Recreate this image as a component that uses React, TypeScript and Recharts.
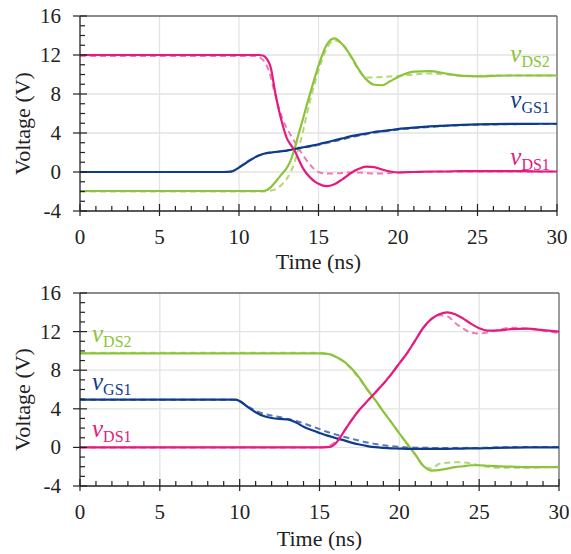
import React from 'react';
import { LineChart, Line, XAxis, YAxis, CartesianGrid, ReferenceLine, ReferenceDot } from 'recharts';

// turn-on transient (top) and turn-off transient (bottom), time in ns, voltage in V
const topTime = [0, 9, 9.5, 10, 10.5, 11, 11.25, 11.5, 11.75, 12, 12.25, 12.5, 12.75, 13, 13.25, 13.5, 13.75, 14, 14.25, 14.5, 14.75, 15, 15.5, 16, 16.5, 17, 17.5, 18, 18.5, 19, 19.5, 20, 21, 22, 23, 24, 25, 26, 27, 28, 29, 30];
const topVds1 = [12, 12, 12, 12, 12, 12, 12, 11.95, 11.6, 10.7, 8.4, 6.4, 4.8, 3.5, 2.8, 2.2, 1.3, 0.45, -0.15, -0.6, -0.95, -1.2, -1.45, -1.25, -0.75, -0.15, 0.3, 0.55, 0.5, 0.25, 0.05, -0.05, 0, 0.05, 0.05, 0.1, 0.1, 0.1, 0.1, 0.08, 0.05, 0.05];
const topVds1Sim = [11.9, 11.9, 11.9, 11.9, 11.9, 11.9, 11.8, 11.5, 10.9, 9.7, 8.1, 6.6, 5.4, 4.5, 3.8, 3.1, 2.4, 1.8, 1.2, 0.7, 0.25, 0, -0.15, -0.15, -0.1, -0.05, -0.05, -0.1, -0.15, -0.15, -0.1, -0.05, 0, 0, 0.05, 0.05, 0.05, 0.05, 0.05, 0.05, 0.05, 0.05];
const topVds2 = [-1.95, -1.95, -1.95, -1.95, -1.95, -1.95, -1.95, -1.95, -1.85, -1.55, -1.1, -0.6, -0.1, 0.4, 1.2, 2.4, 3.9, 5.3, 6.8, 8.2, 9.6, 10.9, 13.0, 13.7, 13.1, 12.0, 10.6, 9.5, 8.95, 8.9, 9.3, 9.75, 10.3, 10.35, 10.1, 9.85, 9.8, 9.85, 9.9, 9.9, 9.9, 9.9];
const topVds2Sim = [-2, -2, -2, -2, -2, -2, -2, -2, -1.95, -1.9, -1.8, -1.55, -1.2, -0.7, 0, 1.0, 2.4, 4.0, 5.8, 7.5, 9.0, 10.4, 12.6, 13.5, 13.1, 11.9, 10.5, 9.7, 9.7, 9.75, 9.8, 9.85, 10.0, 10.1, 10.0, 9.9, 9.85, 9.9, 9.9, 9.9, 9.9, 9.9];
const topVgs1 = [0, 0, 0.03, 0.45, 1.0, 1.5, 1.7, 1.85, 1.95, 2.0, 2.05, 2.1, 2.15, 2.2, 2.28, 2.36, 2.45, 2.53, 2.6, 2.68, 2.76, 2.85, 3.05, 3.25, 3.45, 3.65, 3.8, 3.95, 4.1, 4.2, 4.3, 4.4, 4.55, 4.67, 4.76, 4.83, 4.88, 4.91, 4.93, 4.94, 4.95, 4.95];
const topVgs1Sim = [0, 0, 0.05, 0.5, 1.05, 1.5, 1.7, 1.82, 1.92, 1.98, 2.03, 2.08, 2.13, 2.18, 2.25, 2.32, 2.4, 2.48, 2.55, 2.62, 2.7, 2.78, 2.97, 3.15, 3.35, 3.55, 3.72, 3.88, 4.02, 4.14, 4.25, 4.35, 4.5, 4.62, 4.72, 4.8, 4.85, 4.88, 4.9, 4.92, 4.93, 4.93];

const botTime = [0, 9.5, 9.75, 10, 10.5, 11, 11.5, 12, 12.5, 13, 13.5, 14, 14.5, 15, 15.5, 15.75, 16, 16.25, 16.5, 17, 17.5, 18, 18.5, 19, 19.5, 20, 20.5, 21, 21.5, 22, 22.5, 23, 23.5, 24, 24.5, 25, 25.5, 26, 27, 28, 29, 30];
const botVds1 = [0, 0, 0, 0, 0, 0, 0, 0, 0, 0, 0, 0, 0, 0, 0.02, 0.1, 0.4, 0.9, 1.55, 2.8, 3.9, 4.8, 5.7, 6.6, 7.6, 8.7, 9.8, 11.1, 12.4, 13.3, 13.8, 14.0, 13.8, 13.35, 12.8, 12.35, 12.1, 12.1, 12.25, 12.3, 12.15, 12.0];
const botVds1Sim = [0, 0, 0, 0, 0, 0, 0, 0, 0, 0, 0, 0, 0, 0, 0.1, 0.3, 0.6, 1.0, 1.6, 2.8, 3.9, 4.8, 5.7, 6.6, 7.6, 8.7, 9.8, 11.1, 12.4, 13.3, 13.7, 13.6, 12.9, 12.3, 11.9, 11.8, 11.9, 12.1, 12.4, 12.3, 12.1, 11.85];
const botVds2 = [9.75, 9.75, 9.75, 9.75, 9.75, 9.75, 9.75, 9.75, 9.75, 9.75, 9.75, 9.75, 9.75, 9.75, 9.7, 9.6, 9.4, 9.2, 8.95, 8.2, 7.2, 6.0, 4.9, 3.7, 2.6, 1.45, 0.35, -0.75, -1.9, -2.4, -2.35, -2.2, -2.05, -1.95, -1.85, -1.85, -1.9, -1.95, -2.0, -2.05, -2.05, -2.05];
const botVds2Sim = [9.8, 9.8, 9.8, 9.8, 9.8, 9.8, 9.8, 9.8, 9.8, 9.8, 9.8, 9.8, 9.8, 9.8, 9.7, 9.6, 9.4, 9.15, 8.9, 8.1, 7.1, 5.95, 4.85, 3.7, 2.6, 1.45, 0.35, -0.75, -1.9, -2.2, -1.7, -1.6, -1.55, -1.55, -1.65, -1.85, -2.0, -2.1, -2.1, -2.1, -2.05, -2.0];
const botVgs1 = [4.95, 4.95, 4.95, 4.8, 4.2, 3.65, 3.25, 3.05, 2.95, 2.9, 2.6, 2.15, 1.8, 1.5, 1.22, 1.1, 0.98, 0.86, 0.75, 0.5, 0.3, 0.14, 0.02, -0.05, -0.1, -0.12, -0.15, -0.15, -0.15, -0.15, -0.15, -0.15, -0.13, -0.12, -0.1, -0.1, -0.08, -0.05, -0.02, 0, 0, 0];
const botVgs1Sim = [4.95, 4.95, 4.9, 4.75, 4.25, 3.8, 3.5, 3.3, 3.15, 2.95, 2.75, 2.5, 2.2, 1.9, 1.6, 1.48, 1.35, 1.22, 1.1, 0.9, 0.7, 0.5, 0.35, 0.22, 0.12, 0.05, 0, -0.03, -0.04, -0.05, -0.05, -0.05, -0.05, -0.05, -0.05, -0.05, -0.03, 0, 0.03, 0.05, 0.05, 0.05];

const xTicks = Array.from({ length: 31 }, (_, i) => i);
const yTicks = Array.from({ length: 21 }, (_, i) => i - 4);
const xGrid = [5, 10, 15, 20, 25];
const yGrid = [0, 4, 8, 12];

const PINK = '#E6197E';
const PINK_SIM = '#F07AB2';
const GREEN = '#8CC33A';
const GREEN_SIM = '#B2D877';
const BLUE = '#0F3C8A';
const BLUE_SIM = '#5A78B2';
const AXIS = '#222';
const FONT = 'Liberation Serif';

const topRows = topTime.map((t, i) => ({
  t, ds1: topVds1[i], ds1Sim: topVds1Sim[i], ds2: topVds2[i], ds2Sim: topVds2Sim[i], gs1: topVgs1[i], gs1Sim: topVgs1Sim[i],
}));
const botRows = botTime.map((t, i) => ({
  t, ds1: botVds1[i], ds1Sim: botVds1Sim[i], ds2: botVds2[i], ds2Sim: botVds2Sim[i], gs1: botVgs1[i], gs1Sim: botVgs1Sim[i],
}));

const tickTxt = { fontFamily: FONT, fontSize: 21 };
const titleTxt = { fontFamily: FONT, fontSize: 22 };

function XTick({ x, y, payload }: any) {
  const v = payload.value;
  const major = v % 5 === 0;
  return (
    <g>
      <line x1={x} x2={x} y1={y - (major ? 7 : 5)} y2={major ? y + 5 : y} stroke={AXIS} strokeWidth={1.2} />
      {major && (
        <text x={x} y={y + 33} textAnchor="middle" style={tickTxt} fill={AXIS}>{v}</text>
      )}
    </g>
  );
}

function YTick({ x, y, payload }: any) {
  const v = payload.value;
  const major = v % 4 === 0;
  return (
    <g>
      <line x1={major ? x - 7 : x} x2={x + (major ? 7 : 5)} y1={y} y2={y} stroke={AXIS} strokeWidth={1.2} />
      {major && (
        <text x={x - 19} y={y + 7} textAnchor="end" style={tickTxt} fill={AXIS}>{v}</text>
      )}
    </g>
  );
}

// italic v with an upright subscript
function seriesLabel(sub: string, color: string, anchor: 'start' | 'end') {
  return {
    content: ({ viewBox }: any) => (
      <text x={viewBox.x} y={viewBox.y} textAnchor={anchor} style={{ fontFamily: FONT }} fill={color}>
        <tspan style={{ fontSize: 25, fontStyle: 'italic' }}>v</tspan>
        <tspan style={{ fontSize: 16 }} dy={5}>{sub}</tspan>
      </text>
    ),
  };
}

interface LabelPos { sub: string; color: string; t: number; v: number }

function Panel({ rows, height, top, bottom, right, labels, anchor, titleGap }: {
  rows: any[]; height: number; top: number; bottom: number; right: number; labels: LabelPos[]; anchor: 'start' | 'end'; titleGap: number;
}) {
  return (
    <LineChart width={571} height={height} data={rows} margin={{ top, right, bottom, left: 0 }} style={{ display: 'block' }}>
      <CartesianGrid stroke="#e3e3e3" strokeWidth={1.3} verticalValues={xGrid} horizontalValues={yGrid} />
      <XAxis
        dataKey="t"
        type="number"
        domain={[0, 30]}
        ticks={xTicks}
        interval={0}
        tickSize={0}
        tickMargin={0}
        height={50}
        tick={<XTick />}
        axisLine={{ stroke: AXIS, strokeWidth: 1.3 }}
        label={{
          content: ({ viewBox }: any) => (
            <text x={viewBox.x + viewBox.width / 2} y={viewBox.y + titleGap} textAnchor="middle" style={titleTxt} fill={AXIS}>
              Time (ns)
            </text>
          ),
        }}
      />
      <YAxis
        type="number"
        domain={[-4, 16]}
        ticks={yTicks}
        interval={0}
        tickSize={0}
        tickMargin={0}
        width={80}
        tick={<YTick />}
        axisLine={{ stroke: AXIS, strokeWidth: 1.3 }}
        label={{
          content: ({ viewBox }: any) => {
            const cx = viewBox.x + 22;
            const cy = viewBox.y + viewBox.height / 2 + 10;
            return (
              <text x={cx} y={cy} transform={`rotate(-90 ${cx} ${cy})`} textAnchor="middle" dominantBaseline="central" style={titleTxt} fill={AXIS}>
                Voltage (V)
              </text>
            );
          },
        }}
      />
      <ReferenceLine y={16} stroke="#666" strokeWidth={1.3} />
      <ReferenceLine x={30} stroke="#666" strokeWidth={1.3} />
      <Line dataKey="ds2Sim" type="monotone" stroke={GREEN_SIM} strokeWidth={2} strokeDasharray="6 4" dot={false} isAnimationActive={false} />
      <Line dataKey="gs1Sim" type="monotone" stroke={BLUE_SIM} strokeWidth={2} strokeDasharray="6 4" dot={false} isAnimationActive={false} />
      <Line dataKey="ds1Sim" type="monotone" stroke={PINK_SIM} strokeWidth={2} strokeDasharray="6 4" dot={false} isAnimationActive={false} />
      <Line dataKey="ds2" type="monotone" stroke={GREEN} strokeWidth={2.2} dot={false} isAnimationActive={false} />
      <Line dataKey="gs1" type="monotone" stroke={BLUE} strokeWidth={2.2} dot={false} isAnimationActive={false} />
      <Line dataKey="ds1" type="monotone" stroke={PINK} strokeWidth={2.2} dot={false} isAnimationActive={false} />
      {labels.map((l) => (
        <ReferenceDot key={l.sub} x={l.t} y={l.v} r={0} fill="none" stroke="none" label={seriesLabel(l.sub, l.color, anchor)} />
      ))}
    </LineChart>
  );
}

const topLabels: LabelPos[] = [
  { sub: 'DS2', color: GREEN, t: 29.55, v: 11.26 },
  { sub: 'GS1', color: BLUE, t: 29.55, v: 6.53 },
  { sub: 'DS1', color: PINK, t: 29.55, v: 0.69 },
];
const botLabels: LabelPos[] = [
  { sub: 'DS2', color: GREEN, t: 0.75, v: 10.9 },
  { sub: 'GS1', color: BLUE, t: 0.75, v: 5.9 },
  { sub: 'DS1', color: PINK, t: 0.75, v: 1.04 },
];

export default function App() {
  return (
    <div style={{ position: 'absolute', left: 0, top: 0, width: 571, height: 554, background: '#fff' }}>
      <Panel rows={topRows} height={276} top={16} bottom={15} right={14} labels={topLabels} anchor="end" titleGap={58} />
      <Panel rows={botRows} height={278} top={17} bottom={18} right={12} labels={botLabels} anchor="start" titleGap={60} />
    </div>
  );
}
